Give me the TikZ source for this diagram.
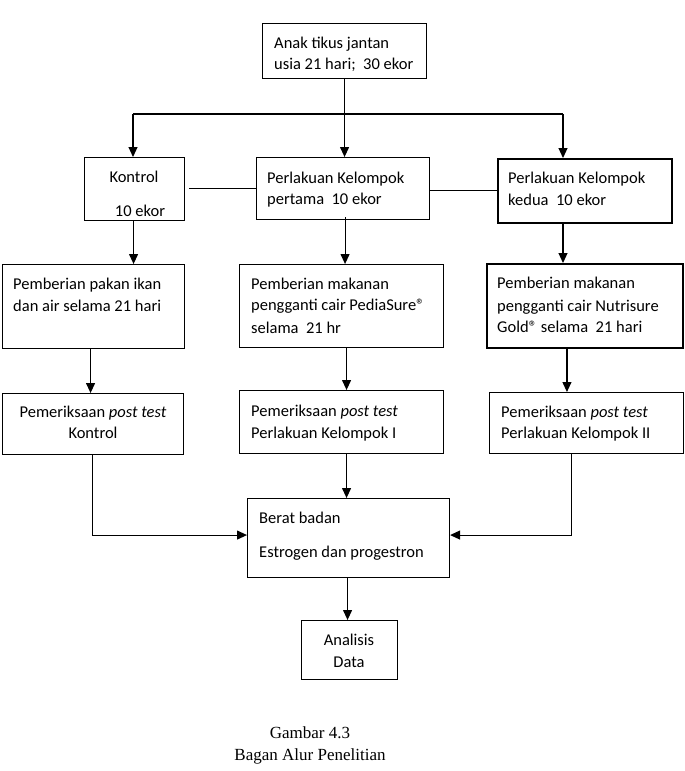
\documentclass[tikz,border=0pt]{standalone}
\usepackage{fontspec}
\setmainfont{Carlito}
\newfontfamily\capfont{Liberation Serif}
\usetikzlibrary{arrows.meta}
\newcommand\fsz{\fontsize{16.5}{20}\selectfont}
\newcommand\regmark{®}
\begin{document}
\begin{tikzpicture}[x=1pt,y=-1pt,
  box/.style={draw, line width=1.1pt, anchor=north west, inner sep=0pt},
  thickbox/.style={box, line width=1.9pt},
  tx/.style={anchor=base west, inner sep=0pt, font=\fsz},
  tc/.style={anchor=base, inner sep=0pt, font=\fsz},
  captxt/.style={anchor=base, inner sep=0pt, font=\capfont\fontsize{17}{20}\selectfont},
  ln/.style={line width=1.1pt},
  arr/.style={line width=1.1pt, -{Triangle[length=10pt,width=9pt]}}]
\useasboundingbox (0,0) rectangle (685,771);
% boxes
\node[box, minimum width=164pt, minimum height=55pt] (top) at (262,23) {};
\node[box, minimum width=100pt, minimum height=63pt] (kon) at (84,157) {};
\node[box, minimum width=173pt, minimum height=62pt] (p1) at (256,157) {};
\node[thickbox, minimum width=174pt, minimum height=64pt] (p2) at (497,158) {};
\node[box, minimum width=182pt, minimum height=84pt] (pakan) at (2,264) {};
\node[box, minimum width=204pt, minimum height=83pt] (pm) at (239,264) {};
\node[thickbox, minimum width=196pt, minimum height=84pt] (p3) at (486,263) {};
\node[box, minimum width=181pt, minimum height=61pt] (post1) at (2,393) {};
\node[box, minimum width=204pt, minimum height=63pt] (post2) at (239,390) {};
\node[box, minimum width=194pt, minimum height=61pt] (post3) at (489,392) {};
\node[box, minimum width=202pt, minimum height=79pt] (berat) at (247,498) {};
\node[box, minimum width=96pt, minimum height=59pt] (an) at (301,620) {};
% texts
\node[tx] (ta1) at (274,48) {Anak tikus jantan};
\node[tx] (ta2) at (274,69) {usia 21 hari;\ \ 30 ekor};
\node[tc] (tk1) at (134,182) {Kontrol};
\node[tc] (tk2) at (140,216) {10 ekor};
\node[tx] (tp11) at (267,183) {Perlakuan Kelompok};
\node[tx] (tp12) at (267,204) {pertama\ \ 10 ekor};
\node[tx] (tp21) at (508,183) {Perlakuan Kelompok};
\node[tx] (tp22) at (508,205) {kedua\ \ 10 ekor};
\node[tx] (tpa1) at (13,289) {Pemberian pakan ikan};
\node[tx] (tpa2) at (13,311) {dan air selama 21 hari};
\node[tx] (tm1) at (251,289) {Pemberian makanan};
\node[tx] (tm2) at (251,310) {pengganti cair PediaSure\regmark};
\node[tx] (tm3) at (251,333) {selama\ \ 21 hr};
\node[tx] (tn1) at (497,288) {Pemberian makanan};
\node[tx] (tn2) at (497,311) {pengganti cair Nutrisure};
\node[tx] (tn3) at (497,332) {Gold\regmark\ selama\ \ 21 hari};
\node[tc] (tq11) at (93,417) {Pemeriksaan \textit{post test}};
\node[tc] (tq12) at (93,438) {Kontrol};
\node[tx] (tq21) at (251,416) {Pemeriksaan \textit{post test}};
\node[tx] (tq22) at (251,438) {Perlakuan Kelompok I};
\node[tx] (tq31) at (501,417) {Pemeriksaan \textit{post test}};
\node[tx] (tq32) at (501,438) {Perlakuan Kelompok II};
\node[tx] (tb1) at (259,523) {Berat badan};
\node[tx] (tb2) at (259,557) {Estrogen dan progestron};
\node[tc] (td1) at (349,645) {Analisis};
\node[tc] (td2) at (349,667) {Data};
\node[captxt] (c1) at (310,738) {Gambar 4.3};
\node[captxt] (c2) at (310,760) {Bagan Alur Penelitian};
% connectors
\coordinate (jl) at (133,114);
\coordinate (jr) at (563,114);
\draw[ln] (jl) -- (jr);
\draw[arr] (top.south) -- (top.south |- p1.north);
\draw[arr] (jl) -- (jl |- kon.north);
\draw[arr] (jr) -- (jr |- p2.north);
\draw[ln] ([xshift=4pt]kon.east |- p1.west) -- (p1.west);
\draw[ln] ([yshift=-2pt]p1.east) -- ([yshift=-2pt]p1.east -| p2.west);
\draw[arr] ([xshift=-1pt]kon.south) -- ([xshift=-1pt]kon.south |- pakan.north);
\draw[arr] ([xshift=2pt,yshift=3pt]p1.south) -- ([xshift=2pt]p1.south |- pm.north);
\draw[arr] (jr |- p2.south) -- (jr |- p3.north);
\draw[arr] ([xshift=-3pt]pakan.south) -- ([xshift=-3pt]pakan.south |- post1.north);
\draw[arr] ([xshift=5pt]pm.south) -- ([xshift=5pt]pm.south |- post2.north);
\draw[arr] ([xshift=-18pt]p3.south) -- ([xshift=-18pt]p3.south |- post3.north);
\draw[arr] ([xshift=5pt]post2.south) -- ([xshift=5pt]post2.south |- berat.north);
\draw[arr] ([xshift=-1pt]post1.south) |- ([yshift=3pt]berat.west);
\draw[arr] ([xshift=-15pt]post3.south) |- ([yshift=3pt]berat.east);
\draw[arr] ([xshift=-1pt]berat.south) -- ([xshift=-1pt]berat.south |- an.north);
\end{tikzpicture}
\end{document}
